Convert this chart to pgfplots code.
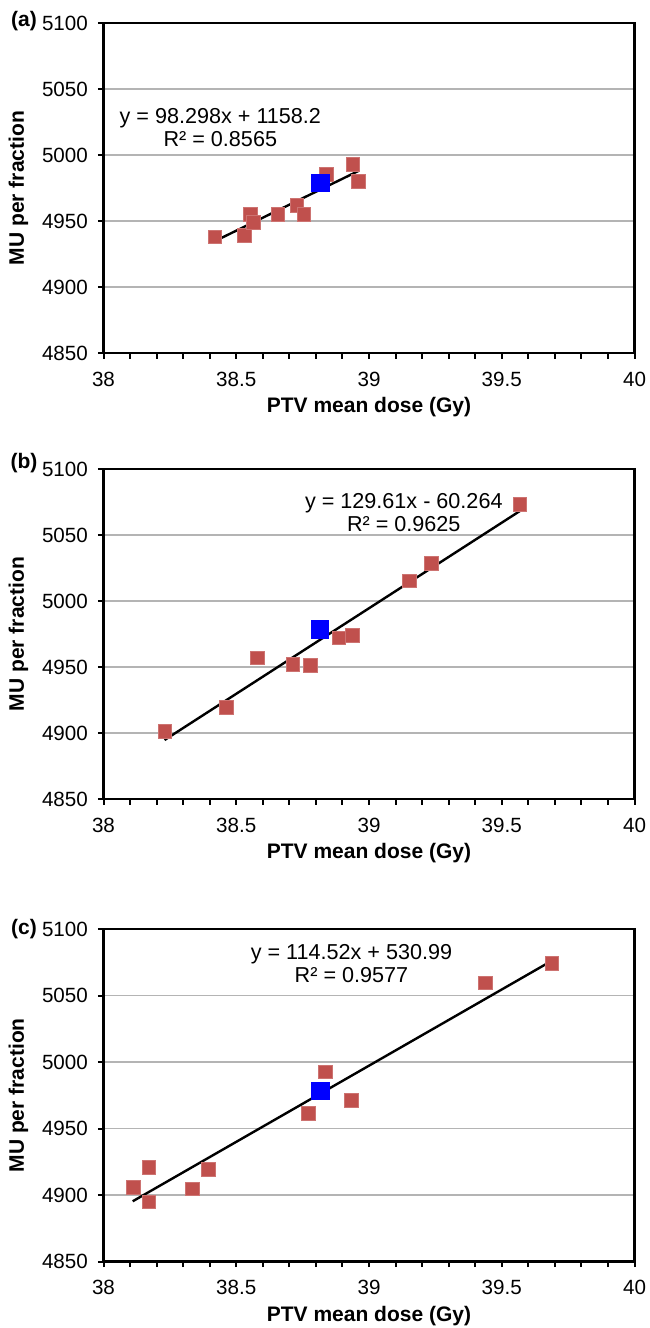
\documentclass[border=0pt]{standalone}
\usepackage{pgfplots}
\pgfplotsset{compat=1.18}
\usepackage{fontspec}
\setmainfont{Liberation Sans}

\definecolor{ptred}{HTML}{C0504D}
\definecolor{ptblue}{HTML}{0000FF}
\definecolor{gridgray}{HTML}{B4B4B4}

% common look of the three panels
\pgfplotsset{
  panel/.style={
    scale only axis, width=265.5pt,
    xmin=38, xmax=40, ymin=4850, ymax=5100,
    xtick={38,38.5,...,40}, minor x tick num=4,
    ytick={4850,4900,...,5100},
    tick pos=left, tick align=outside,
    major tick length=2.8pt, minor tick length=2.8pt,
    every tick/.style={black, line width=1pt},
    ymajorgrids, grid style={gridgray, line width=0.8pt},
    axis line style={line width=1.4pt},
    tick label style={font=\fontsize{10.3}{11}\selectfont},
    x tick label style={yshift=-3pt},
    y tick label style={xshift=-1.5pt},
    /pgf/number format/assume math mode=true,
    /pgf/number format/1000 sep={},
    scaled ticks=false,
    xlabel={PTV mean dose (Gy)}, ylabel={MU per fraction},
    label style={font=\bfseries\fontsize{10.5}{12}\selectfont},
    xlabel style={at={(axis description cs:0.5,-0.164)}, anchor=center},
    ylabel style={at={(axis description cs:-0.160,0.5)}, anchor=center},
  },
}
\tikzset{
  redpts/.style={only marks, mark=square*, mark size=3.4pt,
    mark options={fill=ptred, draw=ptred!80!white, line width=0.4pt}},
  bluept/.style={only marks, mark=square*, mark size=4.3pt,
    mark options={fill=ptblue, draw=ptblue}},
  trend/.style={black, line width=1.2pt, no marks},
  eqn/.style={align=center, font=\fontsize{10.8}{11.6}\selectfont},
  plab/.style={font=\bfseries\fontsize{10.5}{12}\selectfont},
}

\begin{document}
\begin{tikzpicture}
\useasboundingbox (0,0) rectangle (324.5pt,-664pt);

% (a)
\begin{axis}[panel, height=165pt, at={(51.75pt,-11.5pt)}, anchor=north west]
\addplot[redpts] coordinates {
(38.42,4938) (38.53,4939) (38.553,4955) (38.565,4949) (38.657,4955)
(38.728,4962) (38.755,4955) (38.84,4985.5) (38.94,4993) (38.96,4980)
};
\addplot[bluept] coordinates {(38.817,4979)};
\addplot[trend] coordinates {(38.42,4934.8) (38.96,4987.9)};
\node[eqn] at (axis cs:38.44,5020.5) {y = 98.298x + 1158.2\\R² = 0.8565};
\end{axis}

% (b)
\begin{axis}[panel, height=165pt, at={(51.75pt,-234.5pt)}, anchor=north west]
\addplot[redpts] coordinates {
(38.232,4901) (38.462,4919.3) (38.58,4957) (38.713,4952) (38.78,4951)
(38.887,4972) (38.937,4974) (39.153,5015.3) (39.236,5028.4) (39.569,5073.3)
};
\addplot[bluept] coordinates {(38.816,4978.5)};
\addplot[trend] coordinates {(38.23,4894.7) (39.57,5068.4)};
\node[eqn] at (axis cs:39.131,5067) {y = 129.61x - 60.264\\R² = 0.9625};
\end{axis}

% (c)
\begin{axis}[panel, height=166.3pt, at={(51.75pt,-464.5pt)}, anchor=north west]
\addplot[redpts] coordinates {
(38.112,4906) (38.171,4920.6) (38.171,4894.8) (38.335,4904.8) (38.395,4919.3)
(38.772,4961.4) (38.836,4992.6) (38.934,4971) (39.438,5059.5) (39.689,5074.2)
};
\addplot[bluept] coordinates {(38.817,4978.4)};
\addplot[trend] coordinates {(38.11,4895.35) (39.69,5076.3)};
\node[eqn] at (axis cs:38.934,5074) {y = 114.52x + 530.99\\R² = 0.9577};
\end{axis}

\node[plab] at (12pt,-10.5pt) {(a)};
\node[plab] at (12pt,-231.5pt) {(b)};
\node[plab] at (12pt,-464.5pt) {(c)};
\end{tikzpicture}
\end{document}
